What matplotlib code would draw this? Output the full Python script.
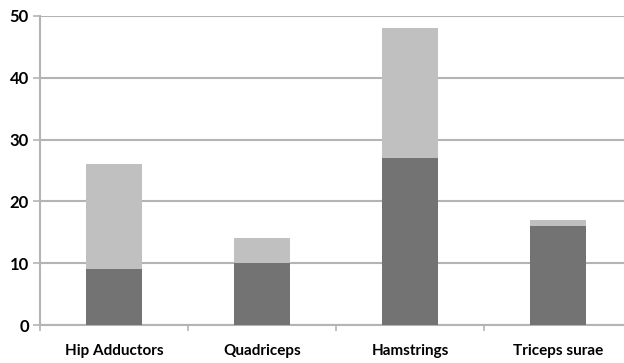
import matplotlib.pyplot as plt
import numpy as np

muscles = ['Hip Adductors', 'Quadriceps', 'Hamstrings', 'Triceps surae']
lower = [9, 10, 27, 16]
upper = [17, 4, 21, 1]
y_ticks = [0, 10, 20, 30, 40, 50]

grid_col = '#b4b4b4'
plt.rcParams['font.family'] = ['Lato', 'DejaVu Sans']

fig = plt.figure(figsize=(6.24, 3.63), dpi=100)
ax = fig.add_axes([40/624, 38/363, 592/624, 309/363])

x = np.arange(len(muscles)) + 0.5
ax.bar(x, lower, width=0.385, color='#737373', zorder=3)
ax.bar(x, upper, width=0.385, bottom=lower, color='#c0c0c0', zorder=3)

ax.set_xlim(0, 4)
ax.set_ylim(0, 50)
ax.set_yticks(y_ticks)
ax.set_xticks(x)
ax.set_xticklabels(muscles, fontsize=11, fontweight='bold')
ax.set_xticks(np.arange(0, 5), minor=True)
ax.tick_params(axis='x', which='major', length=0, pad=14)
ax.tick_params(axis='x', which='minor', length=4, color=grid_col, width=1.2)
ax.tick_params(axis='y', length=5, color=grid_col, width=1.2, labelsize=12, pad=3)
for lab in ax.get_yticklabels():
    lab.set_fontweight('bold')

ax.yaxis.grid(True, color=grid_col, linewidth=1.5, zorder=0)
for s in ['top', 'right']:
    ax.spines[s].set_visible(False)
ax.spines['left'].set_color(grid_col)
ax.spines['bottom'].set_color(grid_col)
ax.spines['left'].set_linewidth(1.5)
ax.spines['bottom'].set_linewidth(1.5)

fig.savefig('out.png', dpi=100)
